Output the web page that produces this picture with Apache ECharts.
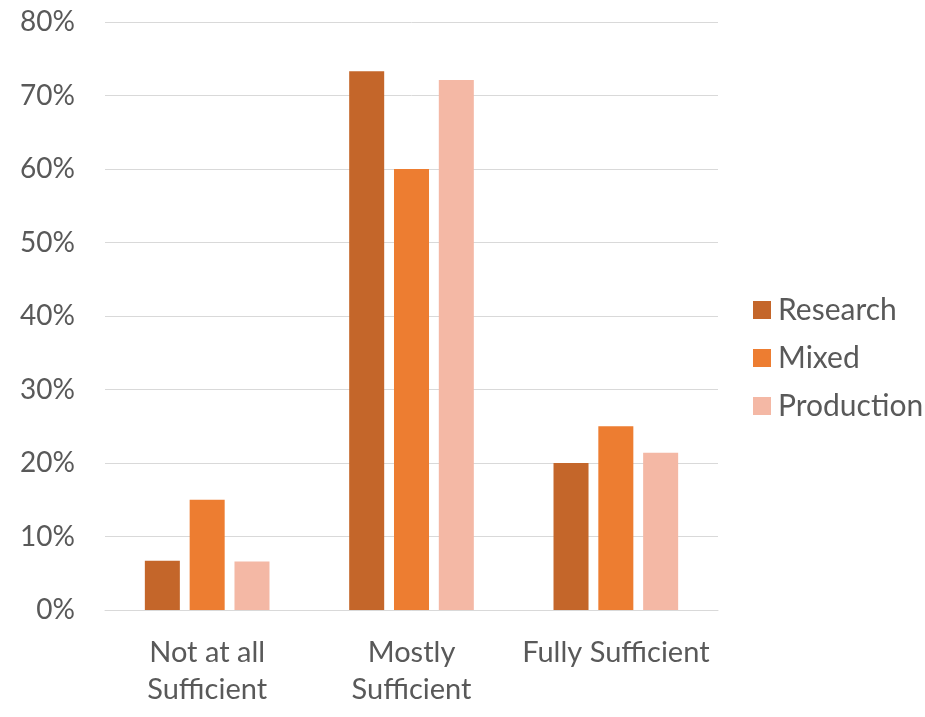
<!DOCTYPE html>
<html>
<head>
<meta charset="utf-8">
<script src="https://cdn.jsdelivr.net/npm/echarts@6/dist/echarts.min.js"></script>
<style>
html,body{margin:0;padding:0;background:#fff;}
#chart{width:925px;height:717px;}
</style>
</head>
<body>
<div id="chart"></div>
<script>
const categories = ["Not at all\nSufficient", "Mostly\nSufficient", "Fully Sufficient"];
const seriesNames = ["Research", "Mixed", "Production"];
const research = [6.7, 73.3, 20.0];
const mixed = [15.0, 60.0, 25.0];
const production = [6.6, 72.1, 21.4];
const yTicks = [0, 10, 20, 30, 40, 50, 60, 70, 80];

const colors = ["#C4662A", "#ED7D31", "#F4B8A5"];
const font = "Lato, 'Open Sans', sans-serif";
const textColor = "#595959";

const chart = echarts.init(document.getElementById('chart'));
const values = [research, mixed, production];
chart.setOption({
  animation: false,
  color: colors,
  grid: {left: 105, right: 207, top: 22, bottom: 107, containLabel: false},
  legend: {
    orient: 'vertical',
    left: 748,
    top: 290,
    itemWidth: 18,
    itemHeight: 18,
    itemGap: 18,
    icon: 'rect',
    textStyle: {fontFamily: font, fontSize: 30, color: textColor, padding: [0,0,0,2]},
    data: seriesNames
  },
  xAxis: {
    type: 'category',
    data: categories,
    axisLine: {show: true, lineStyle: {color: '#D9D9D9', width: 1}},
    axisTick: {show: false},
    axisLabel: {fontFamily: font, fontSize: 29, color: textColor, lineHeight: 37, margin: 24, interval: 0}
  },
  yAxis: {
    type: 'value',
    min: 0, max: 80, interval: 10,
    axisLine: {show: false},
    axisTick: {show: false},
    splitLine: {lineStyle: {color: '#D9D9D9', width: 1}},
    axisLabel: {fontFamily: font, fontSize: 28, color: textColor, margin: 30,
      formatter: v => yTicks.includes(v) ? v + '%' : ''}
  },
  series: seriesNames.map((n, i) => ({
    name: n,
    type: 'bar',
    data: values[i],
    barGap: '28%',
    barCategoryGap: '39%',
    itemStyle: {color: colors[i]}
  }))
});
</script>
</body>
</html>
